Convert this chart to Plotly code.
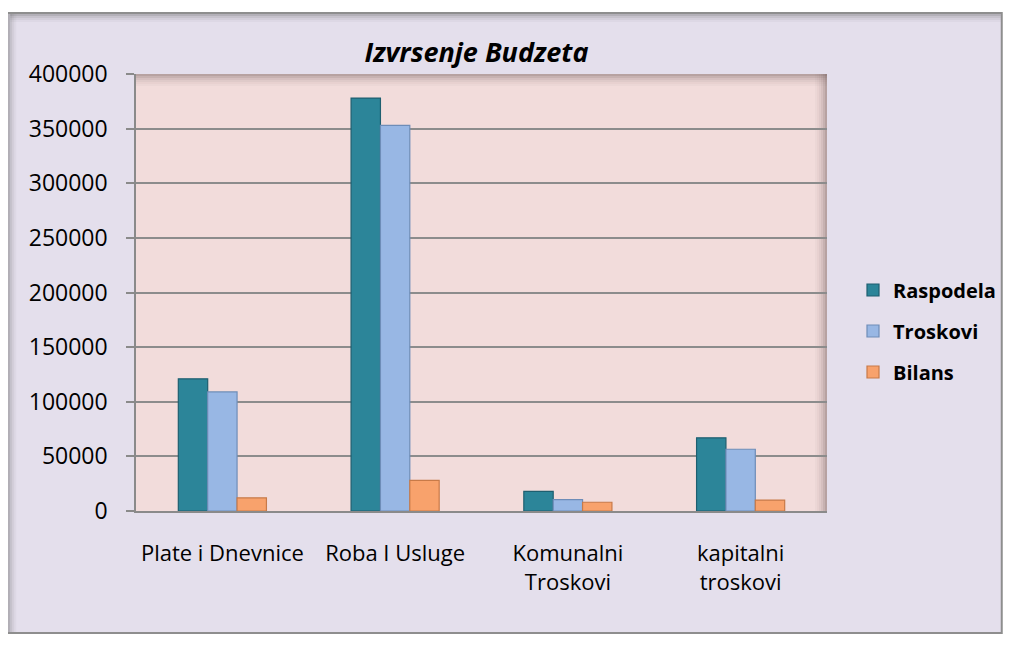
import plotly.graph_objects as go

categories = ["Plate i Dnevnice", "Roba I Usluge", "Komunalni Troskovi", "kapitalni troskovi"]
tick_labels = ["Plate i Dnevnice", "Roba I Usluge", "Komunalni<br>Troskovi", "kapitalni<br>troskovi"]
raspodela = [121000, 378000, 18000, 67000]
troskovi = [109000, 353000, 10500, 56500]
bilans = [12000, 28000, 8000, 10000]
y_ticks = [0, 50000, 100000, 150000, 200000, 250000, 300000, 350000, 400000]

# the page body has an 8px margin, so the figure is drawn 8px smaller
# and everything is placed in page pixels minus that offset
OFF = 8
W, H = 1012 - OFF, 646 - OFF
L, T = 136 - OFF, 74 - OFF
PR, PB = 828 - OFF, 511 - OFF
R, B = W - PR, H - PB
PW, PH = PR - L, PB - T
FONT = "Open Sans"


def px_x(p):
    return (p - OFF - L) / PW


def px_y(p):
    return (PB - (p - OFF)) / PH


fig = go.Figure()
series = [
    ("Raspodela", raspodela, "#2C8599", "#1E5F70"),
    ("Troskovi", troskovi, "#98B7E4", "#6E8DB8"),
    ("Bilans", bilans, "#F8A26C", "#C87A48"),
]
for name, vals, color, edge in series:
    fig.add_trace(go.Bar(
        x=categories, y=vals, name=name, legendgroup=name,
        marker=dict(color=color, line=dict(color=edge, width=1.2)),
    ))

shapes = []
# outer frame
shapes.append(dict(type="rect", xref="paper", yref="paper", layer="below",
                   x0=px_x(7), x1=px_x(1003), y0=px_y(633), y1=px_y(13),
                   fillcolor="#E4DFEC", line=dict(color="#8E8E8E", width=2)))
# inner shadow of the frame (left and top)
for i, op in enumerate([0.35, 0.22, 0.12, 0.05]):
    shapes.append(dict(type="rect", xref="paper", yref="paper", layer="below",
                       x0=px_x(8 + i * 2), x1=px_x(10 + i * 2), y0=px_y(632), y1=px_y(14),
                       fillcolor=f"rgba(90,90,90,{op})", line=dict(width=0)))
    shapes.append(dict(type="rect", xref="paper", yref="paper", layer="below",
                       x0=px_x(10), x1=px_x(1002), y0=px_y(16 + i * 2), y1=px_y(14 + i * 2),
                       fillcolor=f"rgba(90,90,90,{op})", line=dict(width=0)))
# plot area
shapes.append(dict(type="rect", xref="paper", yref="paper", layer="below",
                   x0=0, x1=1, y0=0, y1=1, fillcolor="#F2DCDB", line=dict(width=0)))
# plot area shadow (top and right)
for i, op in enumerate([0.45, 0.32, 0.22, 0.14, 0.08, 0.04]):
    shapes.append(dict(type="rect", xref="paper", yref="paper", layer="below",
                       x0=0, x1=1, y0=px_y(76 + i * 2), y1=px_y(74 + i * 2),
                       fillcolor=f"rgba(110,90,90,{op})", line=dict(width=0)))
    shapes.append(dict(type="rect", xref="paper", yref="paper", layer="below",
                       x0=px_x(826 - i * 2), x1=px_x(828 - i * 2), y0=0, y1=1,
                       fillcolor=f"rgba(110,90,90,{op})", line=dict(width=0)))

fig.update_layout(
    width=W, height=H,
    margin=dict(l=L, r=R, t=T, b=B),
    paper_bgcolor="white",
    plot_bgcolor="rgba(0,0,0,0)",
    barmode="group",
    bargap=0.49,
    bargroupgap=0,
    shapes=shapes,
    font=dict(family=FONT, size=22, color="#000000"),
    title=dict(text="<b><i>Izvrsenje Budzeta</i></b>", x=px_x(477), xref="paper",
               xanchor="center", y=1 - (53 - OFF) / H, yref="container", yanchor="middle",
               font=dict(family=FONT, size=27, color="#000000")),
    legend=dict(x=px_x(853), xanchor="left", y=px_y(331), yanchor="middle",
                bgcolor="rgba(0,0,0,0)", tracegroupgap=12,
                font=dict(family=FONT, size=20, color="#000000", weight="bold"),
                itemwidth=30),
    showlegend=True,
)
fig.update_xaxes(
    tickvals=categories, ticktext=tick_labels,
    showline=True, linecolor="#8A8A8A", linewidth=1.5,
    ticks="", ticklabelstandoff=22,
    tickfont=dict(family=FONT, size=22),
    showgrid=False,
)
fig.update_yaxes(
    range=[0, 400000], tickvals=y_ticks, ticktext=[str(v) for v in y_ticks],
    showline=True, linecolor="#8A8A8A", linewidth=1.5,
    ticks="outside", ticklen=8, tickcolor="#8A8A8A", tickwidth=1.5,
    ticklabelstandoff=14,
    showgrid=True, gridcolor="#8C8C8C", gridwidth=1.5,
    zeroline=False,
    tickfont=dict(family=FONT, size=23),
)

fig.write_html("out.html")
